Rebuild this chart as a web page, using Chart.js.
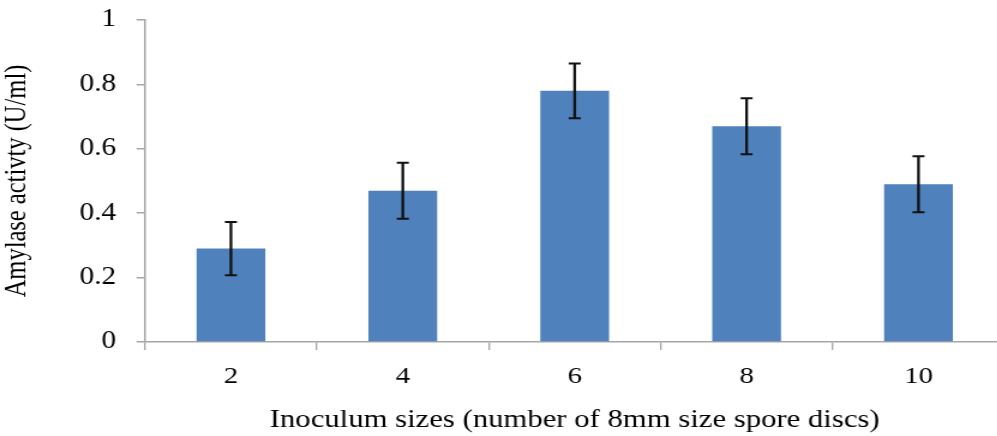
<!DOCTYPE html>
<html><head><meta charset="utf-8">
<script src="https://cdn.jsdelivr.net/npm/chart.js@4"></script>
<style>
html,body{margin:0;padding:0;background:#fff;overflow:hidden;width:997px;height:436px;}
#wrap{position:absolute;left:0;top:0;width:837px;height:436px;transform:scaleX(1.2);transform-origin:0 0;}
</style></head><body>
<div id="wrap"><canvas id="c"></canvas></div>
<script>
const categories = ['2', '4', '6', '8', '10'];
const activity = [0.29, 0.47, 0.78, 0.67, 0.49];
const errors = [0.083, 0.087, 0.085, 0.087, 0.087];
const yTicks = [0, 0.2, 0.4, 0.6, 0.8, 1];
const xTitle = 'Inoculum sizes (number of 8mm size spore discs)';
const yTitle = 'Amylase activty (U/ml)';

const errorBars = {
  id: 'errorBars',
  afterDatasetsDraw(chart) {
    const ctx = chart.ctx, y = chart.scales.y;
    const meta = chart.getDatasetMeta(0);
    ctx.save();
    ctx.strokeStyle = '#111';
    meta.data.forEach((bar, i) => {
      const x = bar.x;
      const t = y.getPixelForValue(activity[i] + errors[i]);
      const b = y.getPixelForValue(activity[i] - errors[i]);
      ctx.lineWidth = 2.3;
      ctx.beginPath(); ctx.moveTo(x, t); ctx.lineTo(x, b); ctx.stroke();
      ctx.lineWidth = 2;
      ctx.beginPath();
      ctx.moveTo(x - 5, t); ctx.lineTo(x + 5, t);
      ctx.moveTo(x - 5, b); ctx.lineTo(x + 5, b);
      ctx.stroke();
    });
    ctx.restore();
  }
};

new Chart(document.getElementById('c'), {
  type: 'bar',
  data: {
    labels: categories,
    datasets: [{
      data: activity,
      backgroundColor: '#4F81BD',
      borderWidth: 0,
      barPercentage: 0.4,
      categoryPercentage: 1
    }]
  },
  options: {
    responsive: true,
    maintainAspectRatio: false,
    animation: false,
    devicePixelRatio: 1,
    layout: { padding: { top: 20, left: 0, right: 0, bottom: 0 } },
    plugins: { legend: { display: false }, tooltip: { enabled: false } },
    scales: {
      x: {
        offset: true,
        grid: { display: true, drawOnChartArea: false, drawTicks: true, tickLength: 8, color: '#a6a6a6', lineWidth: 1.3, offset: true },
        border: { display: true, color: '#a6a6a6', width: 1.5 },
        ticks: { color: '#000', padding: 12, font: { family: 'Liberation Serif', size: 24 } },
        title: { display: true, text: xTitle, color: '#000', padding: 0, font: { family: 'Liberation Serif', size: 25.6 } },
        afterFit(s) { s.height = 94; s.paddingLeft = 0; s.paddingRight = 0; }
      },
      y: {
        min: 0, max: 1,
        afterBuildTicks(s) { s.ticks = yTicks.map(v => ({ value: v })); },
        grid: { display: true, drawOnChartArea: false, drawTicks: true, tickLength: 7, color: '#a6a6a6', lineWidth: 1.5 },
        border: { display: true, color: '#a6a6a6', width: 1.5 },
        ticks: { color: '#000', padding: 17, font: { family: 'Liberation Serif', size: 24.5 },
          callback: v => String(Number(Number(v).toFixed(1))) },
        title: { display: true, text: yTitle, color: '#000', padding: { top: 0, bottom: 8 }, font: { family: 'Liberation Serif', size: 24.5 } },
        afterFit(s) { s.width = 120.8; s.paddingTop = 0; s.paddingBottom = 0; }
      }
    }
  },
  plugins: [errorBars]
});
</script>
</body></html>
